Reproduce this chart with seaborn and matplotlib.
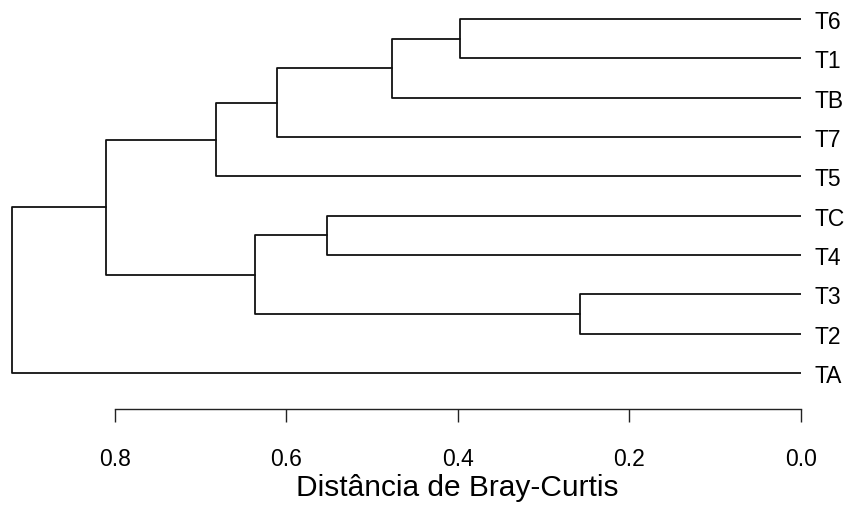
import matplotlib
matplotlib.use("Agg")
import matplotlib.pyplot as plt
import pandas as pd
import seaborn as sns

# Leaf order from top to bottom and their Bray-Curtis clustering
leaves = ["T6", "T1", "TB", "T7", "T5", "TC", "T4", "T3", "T2", "TA"]
merge_a = ["T3", "T6", "m2", "TC", "m3", "m4", "m5", "m7", "m8"]
merge_b = ["T2", "T1", "TB", "T4", "T7", "m1", "T5", "m6", "TA"]
merge_h = [0.257, 0.397, 0.477, 0.553, 0.611, 0.637, 0.682, 0.811, 0.920]
x_ticks = [0.8, 0.6, 0.4, 0.2, 0.0]
x_title = "Distância de Bray-Curtis"

sns.set_style("white", {"text.color": "black", "xtick.color": "black",
                        "ytick.color": "black", "axes.labelcolor": "black"})
plt.rcParams["font.family"] = ["Liberation Sans", "DejaVu Sans"]

# vertical position of each leaf (top leaf highest)
ypos = {name: len(leaves) - i for i, name in enumerate(leaves)}
height = {name: 0.0 for name in leaves}

rows = []
for k, (a, b, h) in enumerate(zip(merge_a, merge_b, merge_h), start=1):
    ya, yb = ypos[a], ypos[b]
    ha, hb = height[a], height[b]
    seg = f"m{k}"
    # U-shaped link: child a -> merge height -> child b
    for x, y in [(ha, ya), (h, ya), (h, yb), (hb, yb)]:
        rows.append({"seg": seg, "x": x, "y": y})
    ypos[seg] = (ya + yb) / 2
    height[seg] = h

links = pd.DataFrame(rows)

fig = plt.figure(figsize=(8.47, 5.06), dpi=100)
ax = fig.add_axes([0.0, 0.1897, 800.7 / 847, 0.8103])

sns.lineplot(data=links, x="x", y="y", units="seg", estimator=None,
             sort=False, color="#111111", linewidth=1.3, ax=ax,
             legend=False)

ax.set_xlim(800.7 / 857.1, 0.0)
ax.set_ylim(0.085, 10.51)

for side in ["top", "left", "right"]:
    ax.spines[side].set_visible(False)
ax.spines["bottom"].set_bounds(0.0, 0.8)
ax.spines["bottom"].set_color("#222222")
ax.spines["bottom"].set_linewidth(1.0)

ax.set_xticks(x_ticks)
ax.set_xticklabels([f"{v:.1f}" for v in x_ticks], fontsize=16.5)
ax.tick_params(axis="x", direction="out", length=9.5, width=1.0,
               color="#222222", labelcolor="black", pad=18, bottom=True)

ax.yaxis.tick_right()
ax.set_yticks([ypos[n] for n in leaves])
ax.set_yticklabels(leaves, fontsize=16.5, color="black")
ax.tick_params(axis="y", length=0, pad=10, right=False)

ax.set_xlabel(x_title, fontsize=21.5, labelpad=2, color="black")
# centre the title under the scale bar rather than the whole axes
ax.xaxis.label.set_x(0.5714)
ax.set_ylabel("")

fig.savefig("out.png", dpi=100)
